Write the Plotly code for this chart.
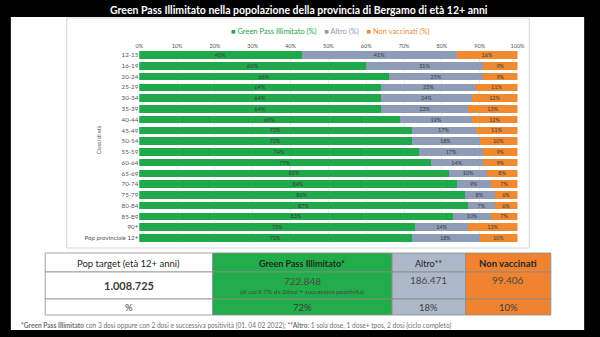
import plotly.graph_objects as go

# ---------------- data ----------------
categories = ["12-15", "16-19", "20-24", "25-29", "30-34", "35-39", "40-44", "45-49",
              "50-54", "55-59", "60-64", "65-69", "70-74", "75-79", "80-84", "85-89",
              "90+", "Pop provinciale 12+"]
green_pass = [43, 60, 66, 64, 64, 64, 69, 72, 72, 74, 77, 82, 84, 86, 87, 83, 73, 72]
altro = [41, 31, 25, 25, 24, 23, 19, 17, 18, 17, 14, 10, 9, 8, 7, 10, 14, 18]
non_vacc = [16, 9, 9, 11, 12, 13, 12, 11, 10, 9, 9, 8, 7, 6, 6, 7, 13, 10]
series_names = ["Green Pass Illimitato (%)", "Altro (%)", "Non vaccinati (%)"]
x_ticks = [0, 10, 20, 30, 40, 50, 60, 70, 80, 90, 100]
x_tick_labels = ["0%", "10%", "20%", "30%", "40%", "50%", "60%", "70%", "80%", "90%", "100%"]

table_headers = ["Pop target (età 12+ anni)", "Green Pass Illimitato*", "Altro**", "Non vaccinati"]
table_counts = ["1.008.725", "722.848", "186.471", "99.406"]
table_note = "(di cui il 7% da 2dosi + successiva positività)"
table_pcts = ["%", "72%", "18%", "10%"]

title_text = "Green Pass Illimitato nella popolazione della provincia di Bergamo di età 12+ anni"
y_title = "Classi di età"
footnote = ("<b>*Green Pass Illimitato</b> con 3 dosi oppure con 2 dosi e successiva positività "
            "(01. 04 02 2022); <b>**Altro</b>: 1 sola dose, 1 dose+ tpos, 2 dosi (ciclo completo)")

# ---------------- style ----------------
W, H = 600, 337
FONT = "Lato"
bar_colors = ["#20a94a", "#8e9cb7", "#f08a30"]
table_fills = ["#ffffff", "#22ad4b", "#adb8c9", "#f0832f"]


def px(x):
    return x / W


def py(y):
    return 1 - y / H


fig = go.Figure()
for name, vals, col in zip(series_names, [green_pass, altro, non_vacc], bar_colors):
    fig.add_trace(go.Bar(
        y=categories, x=vals, orientation="h", name=name,
        marker=dict(color=col, line=dict(width=0)),
        text=[f"{v}%" for v in vals], textposition="inside",
        insidetextanchor="middle", constraintext="none",
        textfont=dict(size=5.5, color="#3a3a3a", family=FONT),
        hoverinfo="skip",
    ))

shapes = []
# white page
shapes.append(dict(type="rect", xref="paper", yref="paper", layer="below",
                   x0=px(7), x1=px(592), y0=py(330), y1=py(17),
                   fillcolor="white", line=dict(width=0)))
# chart panel border
shapes.append(dict(type="rect", xref="paper", yref="paper", layer="below",
                   x0=px(64), x1=px(536), y0=py(248), y1=py(18),
                   fillcolor="white", line=dict(width=1, color="#d6d6d6")))

# table
col_edges = [42, 213, 396, 471, 558]
row_edges = [253, 272, 299, 315]
for c in range(4):
    for r in range(3):
        shapes.append(dict(type="rect", xref="paper", yref="paper", layer="above",
                           x0=px(col_edges[c]), x1=px(col_edges[c + 1]),
                           y0=py(row_edges[r + 1]), y1=py(row_edges[r]),
                           fillcolor=table_fills[c],
                           line=dict(width=0.8, color="#8a8a8a")))

annotations = []
annotations.append(dict(text=f"<b>{title_text}</b>", x=px(301), y=py(10), xref="paper", yref="paper",
                        showarrow=False, xanchor="center", yanchor="middle",
                        font=dict(size=10.5, color="white", family=FONT)))
# legend (one line, coloured per series)
legend_html = "&nbsp;&nbsp;&nbsp;&nbsp;".join(
    f"<span style='color:{col}'>■ {name}</span>" for name, col in zip(series_names, bar_colors))
annotations.append(dict(text=legend_html, x=px(333), y=py(32), xref="paper", yref="paper",
                        showarrow=False, xanchor="center", yanchor="middle",
                        font=dict(size=7.5, color=bar_colors[0], family=FONT)))
annotations.append(dict(text=y_title, x=px(97), y=py(140), xref="paper", yref="paper",
                        showarrow=False, textangle=-90, xanchor="center", yanchor="middle",
                        font=dict(size=5.5, color="#555555", family=FONT)))

# table text
header_sizes = [9.5, 9, 9, 9.5]
for c in range(4):
    cx = px((col_edges[c] + col_edges[c + 1]) / 2)
    h = table_headers[c]
    if c in (1, 3):
        h = f"<b>{h}</b>"
    annotations.append(dict(text=h, x=cx, y=py(263), xref="paper", yref="paper", showarrow=False,
                            xanchor="center", yanchor="middle",
                            font=dict(size=header_sizes[c], color="#262626", family=FONT)))
    cnt = table_counts[c]
    cy = 285
    csize = 10
    if c == 0:
        cnt = f"<b>{cnt}</b>"
        csize = 11
    elif c == 1:
        cy = 281
    else:
        cy = 280
    annotations.append(dict(text=cnt, x=cx, y=py(cy), xref="paper", yref="paper", showarrow=False,
                            xanchor="center", yanchor="middle",
                            font=dict(size=csize, color="#3c3c3c" if c == 0 else "#4a4a4a",
                                      family=FONT)))
    annotations.append(dict(text=table_pcts[c], x=cx, y=py(307.5), xref="paper", yref="paper",
                            showarrow=False, xanchor="center", yanchor="middle",
                            font=dict(size=9.5, color="#3c3c3c", family=FONT)))
annotations.append(dict(text=table_note, x=px((col_edges[1] + col_edges[2]) / 2), y=py(291.5),
                        xref="paper", yref="paper", showarrow=False, xanchor="center",
                        yanchor="middle", font=dict(size=6.5, color="#444444", family=FONT)))
annotations.append(dict(text=footnote, x=px(15), y=py(325), xref="paper", yref="paper",
                        showarrow=False, xanchor="left", yanchor="middle",
                        font=dict(size=6.6, color="#707070", family=FONT)))

fig.update_layout(
    width=W, height=H, autosize=False,
    margin=dict(l=0, r=0, t=0, b=0),
    paper_bgcolor="black", plot_bgcolor="white",
    barmode="stack", bargap=0.3, showlegend=False,
    font=dict(family=FONT),
    shapes=shapes, annotations=annotations,
    xaxis=dict(domain=[px(138), px(524)], range=[0, 100], side="top",
               tickvals=x_ticks, ticktext=x_tick_labels,
               tickfont=dict(size=5.5, color="#555555"), ticks="",
               showgrid=True, gridcolor="#ececec", gridwidth=1, zeroline=False,
               fixedrange=True),
    yaxis=dict(domain=[py(243.4), py(49.6)], autorange="reversed", type="category",
               tickfont=dict(size=6.2, color="#555555"), ticks="", ticklen=0,
               showgrid=False, fixedrange=True),
)

fig.write_html("out.html")
